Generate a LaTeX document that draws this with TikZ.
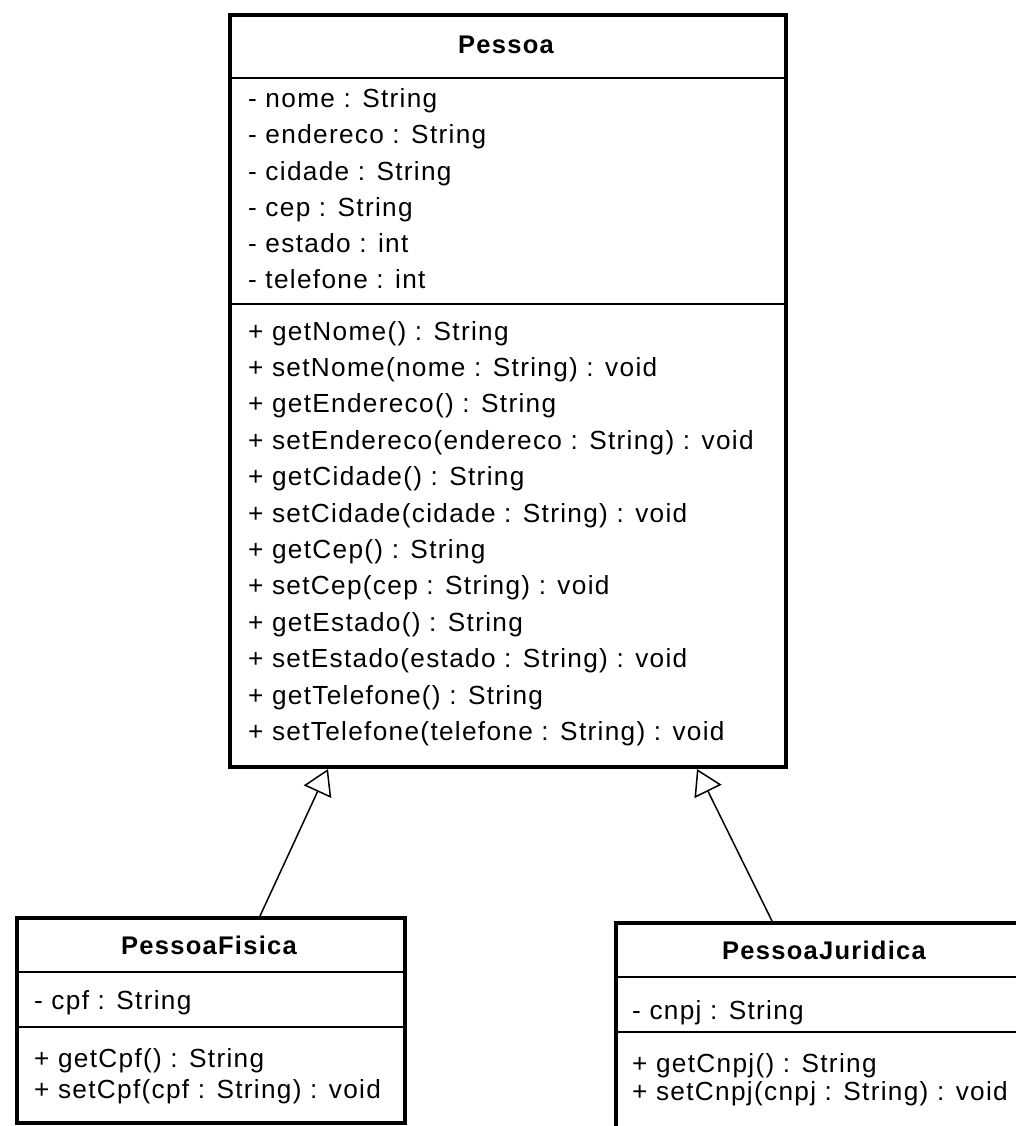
\documentclass[tikz,border=0pt]{standalone}
\usepackage{fontspec}
\setmainfont{Liberation Sans}[LetterSpace=5]
\usetikzlibrary{arrows.meta}
\begin{document}
\begin{tikzpicture}[x=1pt,y=-1pt,
  classbox/.style={draw=black, line width=4pt, fill=white, anchor=north west, inner sep=0pt},
  sepline/.style={line width=2pt},
  member/.style={anchor=base west, inner sep=0pt, font=\fontsize{26.2}{28}\selectfont},
  title/.style={anchor=base, inner sep=0pt, font=\fontsize{25.5}{28}\selectfont\bfseries},
  inherit/.style={line width=1.5pt, -{Triangle[open, length=25pt, width=30pt, line width=1.5pt]}}]
\useasboundingbox (0,0) rectangle (1016,1126);

% ---- Pessoa ----
\node[classbox, minimum width=556pt, minimum height=752pt] (pessoa) at (228,13) {};
\draw[sepline] (228,78) -- (784,78);
\draw[sepline] (228,304) -- (784,304);
\node[title] (tPessoa) at (506,54) {Pessoa};
\foreach \t [count=\i from 0] in {- nome : String, - endereco : String, - cidade : String, - cep : String, - estado : int, - telefone : int}
  \node[member] (pa\i) at (248,108+36*\i) {\t};
\foreach \t [count=\i from 0] in {+ getNome() : String, + setNome(nome : String) : void, + getEndereco() : String, + setEndereco(endereco : String) : void, + getCidade() : String, + setCidade(cidade : String) : void, + getCep() : String, + setCep(cep : String) : void, + getEstado() : String, + setEstado(estado : String) : void, + getTelefone() : String, + setTelefone(telefone : String) : void}
  \node[member] (pm\i) at (248,340+36.4*\i) {\t};

% ---- PessoaFisica ----
\node[classbox, minimum width=388pt, minimum height=205pt] (pf) at (15,916) {};
\draw[sepline] (15,972) -- (403,972);
\draw[sepline] (15,1027) -- (403,1027);
\node[title] (tPf) at (209,954) {PessoaFisica};
\node[member] (pfa) at (34,1009) {- cpf : String};
\node[member] (pfm0) at (34,1067) {+ getCpf() : String};
\node[member] (pfm1) at (34,1098) {+ setCpf(cpf : String) : void};

% ---- PessoaJuridica ----
\node[classbox, minimum width=420pt, minimum height=230pt] (pj) at (614,921) {};
\draw[sepline] (614,977) -- (1034,977);
\draw[sepline] (614,1032) -- (1034,1032);
\node[title] (tPj) at (824,959) {PessoaJuridica};
\node[member] (pja) at (632,1019) {- cnpj : String};
\node[member] (pjm0) at (632,1072) {+ getCnpj() : String};
\node[member] (pjm1) at (632,1100) {+ setCnpj(cnpj : String) : void};

% ---- generalizations ----
\path (pf.north west) ++(245,0) coordinate (pfTop);
\path (pessoa.south west) ++(100,0) coordinate (tipF);
\path (pj.north west) ++(158,0) coordinate (pjTop);
\path (pessoa.south west) ++(469,0) coordinate (tipJ);
\draw[inherit] (pfTop) -- (tipF);
\draw[inherit] (pjTop) -- (tipJ);
\end{tikzpicture}
\end{document}
